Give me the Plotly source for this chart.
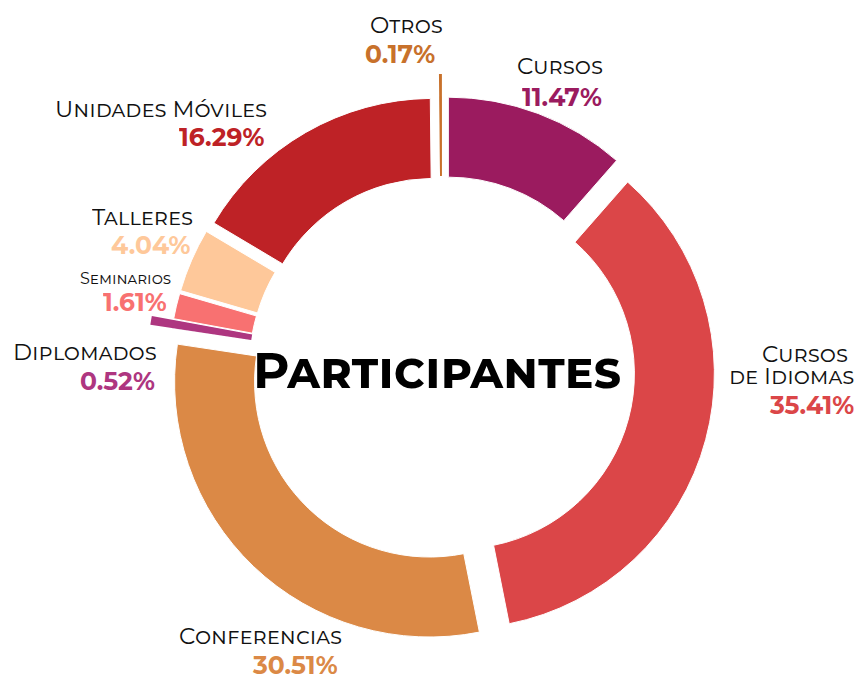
import plotly.graph_objects as go

# ---------------- data ----------------
CATEGORIES = ["Cursos", "Cursos de Idiomas", "Conferencias", "Diplomados",
              "Seminarios", "Talleres", "Unidades Móviles", "Otros"]
VALUES = [11.47, 35.41, 30.51, 0.52, 1.61, 4.04, 16.29, 0.17]
COLORS = ["#9B1B5F", "#DB4648", "#DB8946", "#AE3680",
          "#F87171", "#FEC89A", "#BE2226", "#C8712B"]
THIN = ["Otros", "Diplomados"]          # slices drawn a little longer
CENTER_TITLE = "Participantes"

# ---------------- layout constants (pixels) ----------------
W, H = 863, 675
CX, CY = 442, 369          # centre of the ring
R_OUT, R_IN = 255, 175     # main ring
R_OUT_THIN = 277           # thin slices
PULL_PX = 18

FONT = "Montserrat, 'Open Sans', Lato, sans-serif"
LABEL_SIZE = 23
PCT_SIZE = 25

# label placement: (label lines [(text, x, y)], pct (x, y), xanchor, label size)
LABEL_POS = {
    "Otros": ([("Otros", 406, 24)], (400, 54), "center", LABEL_SIZE),
    "Cursos": ([("Cursos", 560, 65)], (562, 97), "center", LABEL_SIZE),
    "Unidades Móviles": ([("Unidades Móviles", 268, 108)], (265, 136), "right", LABEL_SIZE),
    "Talleres": ([("Talleres", 194, 216)], (191, 244), "right", LABEL_SIZE),
    "Seminarios": ([("Seminarios", 172, 278)], (168, 301), "right", 16),
    "Diplomados": ([("Diplomados", 158, 352)], (156, 380), "right", LABEL_SIZE),
    "Conferencias": ([("Conferencias", 343, 635)], (339, 664), "right", LABEL_SIZE),
    "Cursos de Idiomas": ([("Cursos", 849, 353), ("de Idiomas", 855, 375)],
                          (855, 404), "right", LABEL_SIZE),
}


def domain_for(r_out, pull_px):
    half = r_out + pull_px
    return dict(x=[(CX - half) / W, (CX + half) / W],
                y=[1 - (CY + half) / H, 1 - (CY - half) / H])


fig = go.Figure()

fig.add_trace(go.Pie(
    labels=CATEGORIES, values=VALUES, sort=False, direction="clockwise",
    rotation=0, hole=R_IN / R_OUT, pull=[PULL_PX / R_OUT] * len(VALUES),
    marker=dict(colors=COLORS, line=dict(color="white", width=1)),
    textinfo="none", hoverinfo="label+percent", showlegend=False,
    domain=domain_for(R_OUT, PULL_PX),
))

thin_colors = [c if n in THIN else "rgba(0,0,0,0)" for n, c in zip(CATEGORIES, COLORS)]
fig.add_trace(go.Pie(
    labels=CATEGORIES, values=VALUES, sort=False, direction="clockwise",
    rotation=0, hole=R_IN / R_OUT_THIN, pull=[PULL_PX / R_OUT_THIN] * len(VALUES),
    marker=dict(colors=thin_colors, line=dict(width=0)),
    textinfo="none", hoverinfo="skip", showlegend=False,
    domain=domain_for(R_OUT_THIN, PULL_PX),
))

annotations = []
for name, val, col in zip(CATEGORIES, VALUES, COLORS):
    lines, (px, py), anchor, lsize = LABEL_POS[name]
    for txt, x, y in lines:
        annotations.append(dict(
            text=txt, x=x / W, y=1 - y / H, xref="paper", yref="paper",
            xanchor=anchor, yanchor="middle", showarrow=False,
            height=int(lsize * 0.85), borderpad=0,
            font=dict(family=FONT, size=lsize, color="#111111", variant="small-caps"),
        ))
    annotations.append(dict(
        text=f"{val:.2f}%", x=px / W, y=1 - py / H, xref="paper", yref="paper",
        xanchor=anchor, yanchor="middle", showarrow=False,
        height=int(PCT_SIZE * 0.85), borderpad=0,
        font=dict(family=FONT, size=PCT_SIZE, color=col, weight="bold"),
    ))

annotations.append(dict(
    text=CENTER_TITLE, x=437 / W, y=1 - 371 / H, xref="paper", yref="paper",
    xanchor="center", yanchor="middle", showarrow=False,
    font=dict(family=FONT, size=50, color="#000000", weight="bold", variant="small-caps"),
))

fig.update_layout(
    width=W, height=H, margin=dict(l=0, r=0, t=0, b=0),
    paper_bgcolor="white", plot_bgcolor="white",
    annotations=annotations, showlegend=False,
)

fig.write_html("out.html", config={"displayModeBar": False},
               post_script="document.body.style.margin='0';document.body.style.overflow='hidden';")
